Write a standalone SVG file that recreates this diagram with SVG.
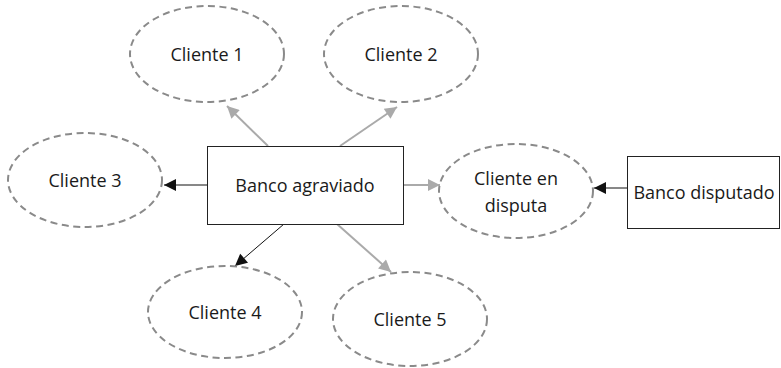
<svg xmlns="http://www.w3.org/2000/svg" width="781" height="368" viewBox="0 0 781 368">
<defs>
<style>
.ell{fill:none;stroke:#8a8a8a;stroke-width:2;stroke-dasharray:7 4.5}
.box{fill:#fff;stroke:#222;stroke-width:1}
.t{font-family:"Open Sans","Liberation Sans",sans-serif;font-size:18px;fill:#1a1a1a;text-anchor:middle}
.g{stroke:#aaa;stroke-width:2;fill:none}
.k{stroke:#111;stroke-width:1;fill:none}
</style>
<marker id="ag" viewBox="0 0 10 10" refX="10" refY="5" markerWidth="17" markerHeight="12" markerUnits="userSpaceOnUse" orient="auto"><path d="M0,0 L10,5 L0,10 Z" fill="#aaa"/></marker>
<marker id="ak" viewBox="0 0 10 10" refX="10" refY="5" markerWidth="17" markerHeight="12" markerUnits="userSpaceOnUse" orient="auto"><path d="M0,0 L10,5 L0,10 Z" fill="#111"/></marker>
</defs>
<g id="connectors">
<line class="g" x1="268" y1="146" x2="227" y2="106" marker-end="url(#ag)"/>
<line class="g" x1="340" y1="146" x2="397" y2="107" marker-end="url(#ag)"/>
<line class="k" x1="207" y1="185" x2="164" y2="185" marker-end="url(#ak)"/>
<line class="g" x1="403" y1="185" x2="440" y2="185" marker-end="url(#ag)"/>
<line class="k" x1="627" y1="188" x2="594" y2="188" marker-end="url(#ak)"/>
<line class="k" x1="284" y1="224" x2="235" y2="266" marker-end="url(#ak)"/>
<line class="g" x1="337" y1="224" x2="391" y2="272" marker-end="url(#ag)"/>
</g>
<g id="cliente1"><ellipse class="ell" cx="207" cy="54" rx="77" ry="48"/><text class="t" x="207" y="61">Cliente 1</text></g>
<g id="cliente2"><ellipse class="ell" cx="401" cy="54" rx="77" ry="48"/><text class="t" x="401" y="61">Cliente 2</text></g>
<g id="cliente3"><ellipse class="ell" cx="85" cy="180" rx="77" ry="47"/><text class="t" x="85" y="187">Cliente 3</text></g>
<g id="banco-agraviado"><rect class="box" x="207.5" y="146.5" width="196" height="78"/><text class="t" x="305" y="192">Banco agraviado</text></g>
<g id="cliente-disputa"><ellipse class="ell" cx="516" cy="191" rx="77" ry="47"/><text class="t" x="516" y="185">Cliente en</text><text class="t" x="516" y="212">disputa</text></g>
<g id="banco-disputado"><rect class="box" x="627.5" y="156.5" width="152" height="72"/><text class="t" x="704" y="199">Banco disputado</text></g>
<g id="cliente4"><ellipse class="ell" cx="225" cy="312" rx="77" ry="46"/><text class="t" x="225" y="319">Cliente 4</text></g>
<g id="cliente5"><ellipse class="ell" cx="410" cy="319" rx="77" ry="47"/><text class="t" x="410" y="326">Cliente 5</text></g>
</svg>
